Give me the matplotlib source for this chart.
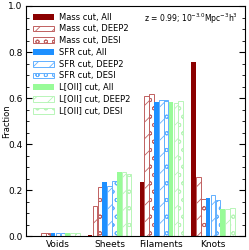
import matplotlib
matplotlib.use("Agg")
import matplotlib.pyplot as plt
import numpy as np

plt.rcParams['hatch.linewidth'] = 0.6

envs = ["Voids", "Sheets", "Filaments", "Knots"]

mass_all = [0.003, 0.004, 0.235, 0.757]
mass_deep2 = [0.012, 0.130, 0.610, 0.257]
mass_desi = [0.012, 0.213, 0.617, 0.162]
sfr_all = [0.013, 0.235, 0.585, 0.168]
sfr_deep2 = [0.012, 0.220, 0.590, 0.178]
sfr_desi = [0.013, 0.242, 0.593, 0.158]
oii_all = [0.016, 0.281, 0.584, 0.119]
oii_deep2 = [0.016, 0.277, 0.580, 0.120]
oii_desi = [0.014, 0.271, 0.587, 0.123]

series = [
    ("Mass cut, All", mass_all, "#8b0000", None),
    ("Mass cut, DEEP2", mass_deep2, "#c06060", "//"),
    ("Mass cut, DESI", mass_desi, "#c06060", "oo"),
    ("SFR cut, All", sfr_all, "#1e90ff", None),
    ("SFR cut, DEEP2", sfr_deep2, "#62b0ff", "//"),
    ("SFR cut, DESI", sfr_desi, "#62b0ff", "oo"),
    ("L[OII] cut, All", oii_all, "#98fb98", None),
    ("L[OII] cut, DEEP2", oii_deep2, "#b8f5b8", "//"),
    ("L[OII] cut, DESI", oii_desi, "#b8f5b8", "oo"),
]

fig = plt.figure(figsize=(2.49, 2.50), dpi=100)
ax = fig.add_axes([0.104, 0.055, 0.88, 0.921])

x = np.arange(len(envs))
step = 0.094
width = 0.088
for i, (lab, vals, col, hatch) in enumerate(series):
    pos = x + (i - 4) * step
    if hatch is None:
        ax.bar(pos, vals, width, color=col, label=lab, lw=0)
    else:
        ax.bar(pos, vals, width, facecolor="none", edgecolor=col, hatch=hatch,
               lw=0.7, label=lab)

ax.set_xlim(-0.62, 3.62)
ax.set_ylim(0, 1.0)
ax.set_xticks(x)
ax.set_xticklabels(envs, fontsize=6.5)
ax.set_yticks(np.arange(0, 1.01, 0.2))
ax.set_yticks(np.arange(0, 1.01, 0.05), minor=True)
ax.tick_params(axis='y', which='both', direction='in', right=True, labelsize=6.5, pad=2.5)
ax.tick_params(axis='y', which='major', length=4)
ax.tick_params(axis='y', which='minor', length=2)
ax.tick_params(axis='x', direction='in', length=0, labelsize=6.5, pad=3)
ax.set_ylabel("Fraction", fontsize=6)
ax.yaxis.set_label_coords(-0.066, 0.5)

ax.legend(loc="upper left", fontsize=6, frameon=False, handlelength=2.6,
          handleheight=0.7, labelspacing=0.33, borderaxespad=0.4,
          handletextpad=0.6)
ax.text(0.97, 0.975, r"z = 0.99; $10^{-3.0}$Mpc$^{-3}$h$^{3}$", fontsize=5.5,
        ha="right", va="top", transform=ax.transAxes)

fig.savefig("out.png", dpi=100)
